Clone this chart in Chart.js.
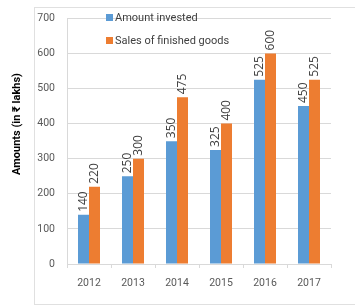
<!DOCTYPE html>
<html lang="en">
<head>
  <meta charset="UTF-8">
  <title>Amount invested vs Sales</title>
  <script src="https://cdn.jsdelivr.net/npm/chart.js"></script>
  <style>
    * { margin: 0; padding: 0; box-sizing: border-box; }
    body { background: #fff; width: 355px; height: 307px; overflow: hidden; }
    canvas { display: block; }
  </style>
</head>
<body>
  <canvas id="chart" width="355" height="307"></canvas>

  <script>
    const years = ['2012', '2013', '2014', '2015', '2016', '2017'];
    const invested = [140, 250, 350, 325, 525, 450];
    const sales = [220, 300, 475, 400, 600, 525];
    const seriesNames = ['Amount invested', 'Sales of finished goods'];
    const yTitle = 'Amounts (in ₹ lakhs)';

    const BLUE = '#5B9BD5';
    const ORANGE = '#ED7D31';
    const GRID = '#d9d9d9';
    const FONT = "Roboto, 'DejaVu Sans', sans-serif";

    // outer frame + y title
    const framePlugin = {
      id: 'frame',
      beforeDraw(chart) {
        const c = chart.ctx;
        c.save();
        c.strokeStyle = '#e0e0e0';
        c.lineWidth = 1;
        c.strokeRect(34.5, 7.5, 400, 297);
        c.restore();
      },
      afterDraw(chart) {
        const c = chart.ctx;
        c.save();
        c.translate(17, 124);
        c.rotate(-Math.PI / 2);
        c.fillStyle = '#000';
        c.font = "bold 11px " + FONT;
        c.textAlign = 'center';
        c.textBaseline = 'middle';
        c.fillText(yTitle, 0, 0);
        c.restore();
      }
    };

    // vertical value labels above bars
    const labelPlugin = {
      id: 'barLabels',
      afterDatasetsDraw(chart) {
        const c = chart.ctx;
        c.save();
        c.fillStyle = '#404040';
        c.font = "12px 'Open Sans', sans-serif";
        c.textAlign = 'left';
        c.textBaseline = 'middle';
        chart.data.datasets.forEach((ds, i) => {
          chart.getDatasetMeta(i).data.forEach((bar, j) => {
            c.save();
            c.translate(bar.x, bar.y - 3);
            c.rotate(-Math.PI / 2);
            c.fillText(String(ds.data[j]), 0, 0);
            c.restore();
          });
        });
        c.restore();
      }
    };

    // legend inside the plot, top left
    const legendPlugin = {
      id: 'insideLegend',
      afterDraw(chart) {
        const c = chart.ctx;
        const colors = [BLUE, ORANGE];
        c.save();
        c.font = "11px " + FONT;
        c.textBaseline = 'middle';
        c.textAlign = 'left';
        seriesNames.forEach((name, i) => {
          const cy = 18 + i * 23;
          c.fillStyle = colors[i];
          c.fillRect(106, cy - 4, 7, 7);
          c.fillStyle = '#404040';
          c.fillText(name, 115, cy);
        });
        c.restore();
      }
    };

    new Chart(document.getElementById('chart'), {
      type: 'bar',
      data: {
        labels: years,
        datasets: [
          { label: seriesNames[0], data: invested, backgroundColor: BLUE, barPercentage: 1, categoryPercentage: 0.5 },
          { label: seriesNames[1], data: sales, backgroundColor: ORANGE, barPercentage: 1, categoryPercentage: 0.5 }
        ]
      },
      options: {
        responsive: false,
        animation: false,
        devicePixelRatio: 1,
        layout: { padding: { top: 18, right: 24, bottom: 0, left: 0 } },
        plugins: { legend: { display: false }, tooltip: { enabled: false } },
        scales: {
          x: {
            afterFit(scale) { scale.height = 43; },
            grid: { drawOnChartArea: false, drawTicks: true, tickLength: 4, color: GRID },
            border: { color: GRID },
            ticks: { color: '#595959', padding: 9, font: { family: FONT, size: 10.5 } }
          },
          y: {
            min: 0,
            max: 700,
            afterFit(scale) { scale.width = 67; },
            grid: { color: GRID, drawTicks: false },
            border: { color: GRID },
            ticks: { stepSize: 100, color: '#595959', padding: 12, font: { family: FONT, size: 10.5 } }
          }
        }
      },
      plugins: [framePlugin, labelPlugin, legendPlugin]
    });
  </script>
</body>
</html>
